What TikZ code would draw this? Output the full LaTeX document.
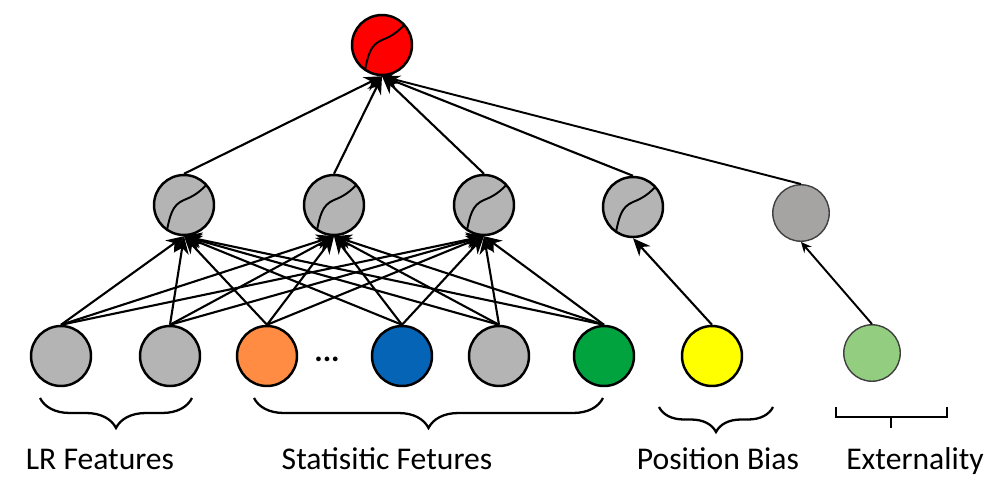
\documentclass[tikz,border=0pt]{standalone}
\usepackage{fontspec}
\setmainfont{Carlito}
\usetikzlibrary{positioning,arrows.meta,decorations.pathreplacing}
\definecolor{unitgray}{HTML}{B4B4B4}
\definecolor{darkunit}{HTML}{A6A3A3}
\definecolor{statorange}{HTML}{FF8C42}
\definecolor{statblue}{HTML}{0564B6}
\definecolor{statgreen}{HTML}{00A33E}
\definecolor{posyellow}{HTML}{FFFF00}
\definecolor{extgreen}{HTML}{93CD80}

\begin{document}
\begin{tikzpicture}[
  x=0.02cm, y=-0.02cm,
  font=\fontsize{18}{21}\selectfont,
  unit/.style={circle, draw=black, line width=1.4pt, fill=unitgray, inner sep=0pt, minimum size=1.2cm},
  thin unit/.style={circle, draw=black!75, line width=0.8pt, inner sep=0pt, minimum size=1.13cm},
  sig/.style={unit, path picture={
    \draw[line width=1.1pt, shift={(path picture bounding box.center)}]
      (-18,30) .. controls (-14,10) and (-12,0) .. (0,-5)
      .. controls (10,-9) and (16,-13) .. (24,-22);}},
  edge/.style={line width=1.2pt, -{Stealth[length=10pt,width=8.5pt]}},
  small edge/.style={line width=1.1pt, -{Stealth[length=6pt,width=5.5pt]}},
  brc/.style={decorate, decoration={brace, mirror, amplitude=#1}, line width=1.3pt},
  brc/.default=0.6cm,
  lab/.style={anchor=base}]

\useasboundingbox (0,0) rectangle (997,484);

% output unit
\node[sig, fill=red] (out) at (382,45) {};

% hidden layer
\node[sig] (h1) at (184,205) {};
\node[sig] (h2) at (334,205) {};
\node[sig] (h3) at (484,205) {};
\node[sig] (h4) at (633,207) {};
\node[thin unit, fill=darkunit] (h5) at (801,213) {};

% input layer
\node[unit] (b1) at (61,356) {};
\node[unit] (b2) at (170,356) {};
\node[unit, fill=statorange] (b3) at (267,356) {};
\node[unit, fill=statblue] (b4) at (402,356) {};
\node[unit] (b5) at (499,356) {};
\node[unit, fill=statgreen] (b6) at (604,356) {};
\node[unit, fill=posyellow] (b7) at (712,356) {};
\node[thin unit, fill=extgreen] (b8) at (872,353) {};
\node[anchor=base, inner sep=0pt] (dots) at (327,361) {\textbf{...}};

\foreach \i in {1,...,6}{
  \foreach \h in {h1,h2,h3}{\draw[edge] (b\i.north) -- (\h.south);}}
\draw[edge] (b7.north) -- (h4.south);
\draw[small edge] (b8.north) -- (h5.south);

\foreach \h in {h1,h2,h3,h4}{\draw[edge] (\h.north) -- (out.south);}
\draw[small edge] (h5.north) -- (out.south);

% groups
\draw[brc] (40,398) -- (192,398);
\draw[brc] (254,398) -- (603,398);
\draw[brc=0.5cm] (659,407) -- (773,407);
\draw[line width=1.3pt] (836,407) -- (836,417) -- (947,417) -- (947,407);
\draw[line width=1.3pt] (891,417) -- (891,428);

\node[lab] (lr) at (100,469) {LR Features};
\node[lab] (st) at (387,469) {Statisitic Fetures};
\node[lab] (pb) at (718,469) {Position Bias};
\node[lab] (ex) at (915,469) {Externality};
\end{tikzpicture}
\end{document}
